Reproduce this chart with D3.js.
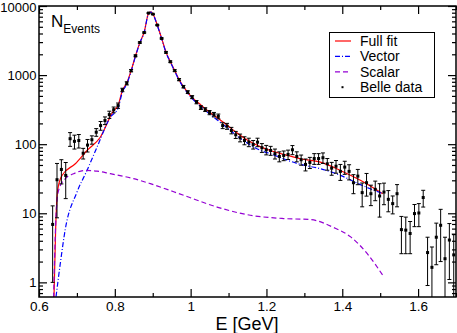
<!DOCTYPE html>
<html>
<head>
<meta charset="utf-8">
<script src="https://cdn.jsdelivr.net/npm/d3@7"></script>
<style>
  body { margin: 0; background: #fff; }
  svg, svg text { font-family: "Liberation Sans", Arial, sans-serif; }
</style>
</head>
<body>
<svg></svg>
<script>
// Belle data: bin centres (GeV), events, errors
const binE = [0.636, 0.6475, 0.659, 0.6705, 0.682, 0.6935, 0.705, 0.7165, 0.728, 0.7395,
  0.751, 0.7625, 0.774, 0.7855, 0.797, 0.8085, 0.82, 0.8315, 0.843, 0.8545,
  0.866, 0.8775, 0.889, 0.9005, 0.912, 0.9235, 0.935, 0.9465, 0.958, 0.9695,
  0.981, 0.9925, 1.004, 1.0155, 1.027, 1.0385, 1.05, 1.0615, 1.073, 1.0845,
  1.096, 1.1075, 1.119, 1.1305, 1.142, 1.1535, 1.165, 1.1765, 1.188, 1.1995,
  1.211, 1.2225, 1.234, 1.2455, 1.257, 1.2685, 1.28, 1.2915, 1.303, 1.3145,
  1.326, 1.3375, 1.349, 1.3605, 1.372, 1.3835, 1.395, 1.4065, 1.418, 1.4295,
  1.441, 1.4525, 1.464, 1.4755, 1.487, 1.4985, 1.51, 1.5215, 1.533, 1.5445,
  1.556, 1.5675, 1.579, 1.5905, 1.602, 1.6135, 1.625, 1.6365, 1.648, 1.6595,
  1.671, 1.6825, 1.694];
const binN = [6.9, 30.6, 43.1, 35.3, 120, 110, 113, 74, 97, 116,
  149, 186, 220, 268, 315, 362, 610, 760, 1160, 1900,
  2960, 4130, 7900, 7620, 5290, 3390, 2130, 1560, 1160, 860,
  680, 567, 480, 406, 339, 317, 287, 268, 253, 186,
  182, 158, 137, 124, 113, 107, 99, 107, 89, 83,
  81, 73, 66.5, 68.7, 71, 83, 66.5, 59.6, 51, 54.4,
  62, 62, 63.7, 52, 45, 48, 40.4, 46.6, 40.4, 27.7,
  34.5, 19.9, 27.7, 19.2, 22.2, 17.8, 20.3, 15.9, 13.8, 19.2,
  5.8, 5.7, 5.1, 9.9, 10.1, 16.9, 2.7, 1.65, 4.5, 6.7,
  2.2, 4.1, 2.5];
const binErr = [5.9, 22, 16.5, 19, 27, 25, 25, 13, 20, 16,
  19, 27, 28, 32, 30, 32, 35, 40, 45, 55,
  65, 75, 95, 95, 80, 65, 50, 42, 36, 31,
  28, 26, 24, 22, 21, 20, 20, 20, 20, 18,
  18, 17, 16, 16, 15, 15, 14, 15, 13, 13,
  12, 12, 11, 11, 11, 12.5, 11, 10, 10, 10,
  11, 11, 11, 10, 9.5, 10, 10.5, 10, 10, 8.5,
  8.6, 7.5, 10, 6.3, 7, 9, 7, 5.4, 4, 6.8,
  3.2, 3.1, 2.5, 3.5, 3.7, 4.6, 1.8, 1.6, 2.7, 4.7,
  2.3, 3.0, 2.5];

// Full fit
const fullE = [0.6395, 0.6438, 0.6491, 0.6607, 0.6958, 0.7266, 0.7617, 0.7968, 0.8085, 0.82,
  0.8315, 0.843, 0.8545, 0.866, 0.8775, 0.889, 0.895, 0.9005, 0.912, 0.9235,
  0.935, 0.9465, 0.958, 0.9695, 0.981, 1.004, 1.027, 1.05, 1.073, 1.096,
  1.119, 1.142, 1.165, 1.188, 1.2103, 1.25, 1.2894, 1.3422, 1.395, 1.4478, 1.5066];
const fullN = [0.6, 5.6, 21.5, 35.3, 52.1, 81, 126, 306, 362, 600,
  770, 1160, 1900, 2950, 4200, 7800, 8200, 7700, 5300, 3400,
  2150, 1560, 1160, 860, 680, 470, 370, 290, 235, 190,
  150, 122, 103, 90, 81, 70, 61.5, 55, 41.7, 30, 19.2];

// Vector contribution
const vecE = [0.6449, 0.6562, 0.6694, 0.7003, 0.7266, 0.753, 0.7881, 0.8085, 0.82, 0.8315,
  0.843, 0.8545, 0.866, 0.8775, 0.889, 0.895, 0.9005, 0.912, 0.9235, 0.935,
  0.9465, 0.958, 0.9695, 0.981, 1.004, 1.027, 1.05, 1.073, 1.096, 1.119,
  1.142, 1.165, 1.188, 1.2103, 1.25, 1.2894, 1.3422, 1.395, 1.4478, 1.5066];
const vecN = [0.62, 1.88, 5.9, 20.3, 41.7, 90.5, 245, 330, 570, 740,
  1130, 1870, 2920, 4150, 7750, 8150, 7650, 5250, 3380, 2120,
  1540, 1140, 845, 665, 455, 350, 272, 218, 174, 136,
  110, 92, 80, 72.7, 60, 51, 44.2, 35.4, 26, 19.2];

// Scalar contribution
const scalE = [0.6385, 0.6456, 0.6517, 0.6694, 0.6913, 0.7222, 0.753, 0.7881, 0.8496, 0.8937,
  0.9815, 1.0697, 1.1575, 1.2454, 1.3158, 1.3773, 1.4221, 1.4654, 1.5066];
const scalN = [0.6, 11.0, 21.5, 31.7, 37.4, 41.7, 40.8, 37.4, 31.7, 26.8,
  18.2, 12.3, 9.36, 8.39, 8.11, 6.22, 4.55, 2.62, 1.27];

const xMajor = [0.6, 0.8, 1.0, 1.2, 1.4, 1.6];
const xMinor = [0.7, 0.9, 1.1, 1.3, 1.5, 1.7];
const yMajor = [1, 10, 100, 1000, 10000];
const legendLabels = ["Full fit", "Vector", "Scalar", "Belle data"];

const W = 457, H = 333;
const margin = { top: 6, right: 1, bottom: 36, left: 39 };
const width = W - margin.left - margin.right;
const height = H - margin.top - margin.bottom;
const font = '"Liberation Sans", Arial, sans-serif';

const svg = d3.select("svg").attr("width", W).attr("height", H);
const g = svg.append("g").attr("transform", `translate(${margin.left},${margin.top})`);

const x = d3.scaleLinear().domain([0.6, 1.7]).range([0, width]);
const y = d3.scaleLog().domain([0.614, 10000]).range([height, 0]);

const yMinor = [0.7, 0.8, 0.9];
[1, 10, 100, 1000].forEach(d => { for (let m = 2; m <= 9; m++) yMinor.push(d * m); });

g.append("defs").append("clipPath").attr("id", "clip")
  .append("rect").attr("width", width).attr("height", height);

// curves
const line = d3.line().x(d => x(d[0])).y(d => y(d[1])).curve(d3.curveMonotoneX);
const plot = g.append("g").attr("clip-path", "url(#clip)");

plot.append("path").datum(d3.zip(fullE, fullN))
  .attr("d", line).attr("fill", "none").attr("stroke", "#ff0000").attr("stroke-width", 1.2);
plot.append("path").datum(d3.zip(vecE, vecN))
  .attr("d", line).attr("fill", "none").attr("stroke", "#0000ff").attr("stroke-width", 1.2)
  .attr("stroke-dasharray", "5,2,1,2");
plot.append("path").datum(d3.zip(scalE, scalN))
  .attr("d", line).attr("fill", "none").attr("stroke", "#9400d3").attr("stroke-width", 1.2)
  .attr("stroke-dasharray", "5,3");

// data with error bars
const pts = binE.map((e, i) => ({ e: e, n: binN[i], err: binErr[i] }));
const lo = d => y(Math.max(d.n - d.err, 0.3));
const pt = plot.selectAll(".pt").data(pts).enter().append("g").attr("class", "pt");
pt.append("line")
  .attr("x1", d => x(d.e)).attr("x2", d => x(d.e))
  .attr("y1", d => y(d.n + d.err)).attr("y2", lo)
  .attr("stroke", "#000").attr("stroke-width", 1);
pt.append("line")
  .attr("x1", d => x(d.e) - 2).attr("x2", d => x(d.e) + 2)
  .attr("y1", d => y(d.n + d.err)).attr("y2", d => y(d.n + d.err))
  .attr("stroke", "#000").attr("stroke-width", 1);
pt.append("line")
  .attr("x1", d => x(d.e) - 2).attr("x2", d => x(d.e) + 2)
  .attr("y1", lo).attr("y2", lo)
  .attr("stroke", "#000").attr("stroke-width", 1);
pt.append("rect")
  .attr("x", d => x(d.e) - 1.5).attr("y", d => y(d.n) - 1.5)
  .attr("width", 3).attr("height", 3).attr("fill", "#000");

// axes, ticks point inward
g.append("g").attr("transform", `translate(0,${height})`)
  .call(d3.axisBottom(x).tickValues(xMajor).tickSize(-8).tickPadding(4)
    .tickFormat(d => d === 1 ? "1" : d3.format(".1f")(d)));
g.append("g").attr("transform", `translate(0,${height})`)
  .call(d3.axisBottom(x).tickValues(xMinor).tickSize(-4).tickFormat(""));
g.append("g").call(d3.axisTop(x).tickValues(xMajor).tickSize(-8).tickFormat(""));
g.append("g").call(d3.axisTop(x).tickValues(xMinor).tickSize(-4).tickFormat(""));

const yAxis = g.append("g")
  .call(d3.axisLeft(y).tickValues(yMajor).tickSize(-8).tickPadding(2.5).tickFormat(d3.format("d")));
g.append("g").call(d3.axisLeft(y).tickValues(yMinor).tickSize(-4).tickFormat(""));
g.append("g").attr("transform", `translate(${width},0)`)
  .call(d3.axisRight(y).tickValues(yMajor).tickSize(-8).tickFormat(""));
g.append("g").attr("transform", `translate(${width},0)`)
  .call(d3.axisRight(y).tickValues(yMinor).tickSize(-4).tickFormat(""));

g.selectAll(".domain").remove();
g.selectAll("g").attr("font-family", font);
g.selectAll(".tick line").attr("stroke", "#000").attr("stroke-width", 1.2);
g.selectAll(".tick text").attr("fill", "#000")
  .style("font-family", font).style("font-size", "13.5px");
yAxis.selectAll(".tick text").style("font-size", "13px");
// keep the top label inside the picture
yAxis.selectAll(".tick text").filter(d => d === 10000).attr("dy", "0.45em");

g.append("rect").attr("width", width).attr("height", height)
  .attr("fill", "none").attr("stroke", "#000").attr("stroke-width", 1.5);

// axis title
svg.append("text").attr("x", 247).attr("y", 330).attr("text-anchor", "middle")
  .style("font-family", font).style("font-size", "18px").text("E [GeV]");

// N_Events
const nl = svg.append("text").attr("x", 51).attr("y", 27)
  .style("font-family", font).style("font-size", "17px");
nl.append("tspan").text("N");
nl.append("tspan").attr("dy", 6).style("font-size", "12px").text("Events");

// legend
const lg = svg.append("g");
lg.append("rect").attr("x", 329.5).attr("y", 32.5).attr("width", 105).attr("height", 65)
  .attr("fill", "#fff").attr("stroke", "#000").attr("stroke-width", 1);
const legStyles = [
  { color: "#ff0000", dash: null },
  { color: "#0000ff", dash: "5,2,1,2" },
  { color: "#9400d3", dash: "5,3" },
  { color: "#000", dash: null }
];
legendLabels.forEach((lab, i) => {
  const ly = 41 + i * 15.4;
  if (i < 3) {
    lg.append("line").attr("x1", 335).attr("x2", 351).attr("y1", ly).attr("y2", ly)
      .attr("stroke", legStyles[i].color).attr("stroke-width", 1.2)
      .attr("stroke-dasharray", legStyles[i].dash);
  } else {
    lg.append("rect").attr("x", 341.5).attr("y", ly - 1).attr("width", 2).attr("height", 2)
      .attr("fill", "#000");
  }
  lg.append("text").attr("x", 360).attr("y", ly + 5)
    .style("font-family", font).style("font-size", "14px").text(lab);
});
</script>
</body>
</html>
